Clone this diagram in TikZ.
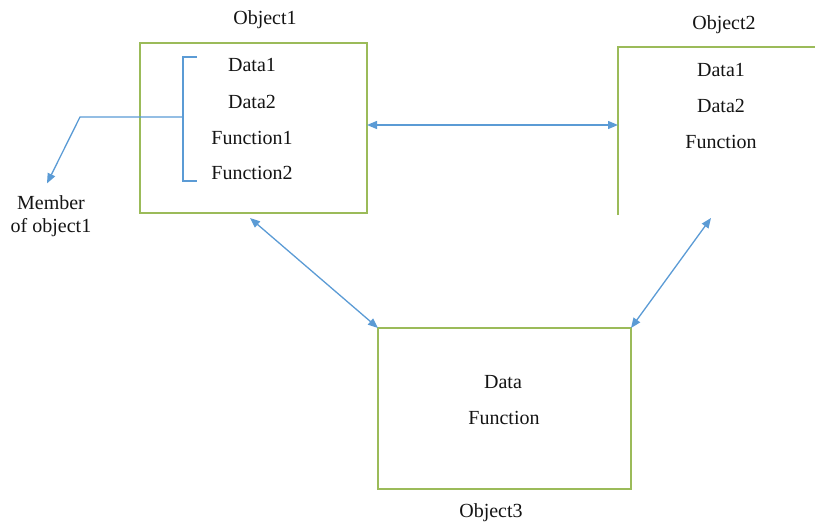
\documentclass[tikz,border=0pt]{standalone}
\usepackage{fontspec}
\setmainfont{Liberation Serif}
\usetikzlibrary{arrows.meta,calc}
\definecolor{boxgreen}{RGB}{155,187,89}
\definecolor{linkblue}{RGB}{91,155,213}
\definecolor{ink}{RGB}{20,20,20}
\begin{document}
\begin{tikzpicture}[x=1pt,y=-1pt,
  every node/.style={inner sep=0pt,outer sep=0pt},
  txt/.style={font=\fontsize{20}{22}\selectfont,text=ink},
  objbox/.style={draw=boxgreen,line width=1.5pt,rectangle,anchor=north west},
  tip/.tip={Triangle[length=10pt,width=8pt]},
  link/.style={draw=linkblue,line width=1.3pt,tip-tip},
  member/.style={draw=linkblue,line width=1.3pt}
]
\useasboundingbox (0,0) rectangle (815,522);

% Object 1: closed box with its four members
\node[objbox,minimum width=227pt,minimum height=170pt] (o1) at (140,43) {};
\node[txt] (o1lab) at (265,20) {Object1};
\node[txt] (d11) at (252,65) {Data1};
\node[txt] (d12) at (252,102) {Data2};
\node[txt] (f11) at (252,138) {Function1};
\node[txt] (f12) at (252,173) {Function2};

% Object 2: only its top and left edges fall inside the page
\node[minimum width=200pt,minimum height=168pt,anchor=north west] (o2) at (618,47) {};
\draw[boxgreen,line width=1.5pt] (o2.south west) -- (o2.north west) -- (o2.north east);
\node[txt] (o2lab) at (724,25) {Object2};
\node[txt] (d21) at (721,70) {Data1};
\node[txt] (d22) at (721,106) {Data2};
\node[txt] (f21) at (721,142) {Function};

% Object 3
\node[objbox,minimum width=253pt,minimum height=161pt] (o3) at (378,328) {};
\node[txt] (o3lab) at (491,513) {Object3};
\node[txt] (d31) at (503,382) {Data};
\node[txt] (f31) at (504,418) {Function};

% Bracket grouping the members of object 1
\coordinate (bt) at (183,57);
\coordinate (bb) at (183,181);
\coordinate (bm) at (183,117);
\coordinate (bend) at (80,117);
\node[txt,align=center] (mem) at (51,216) {Member\\[1pt]of object1};
\draw[member] ($(bt)+(14,0)$) -- (bt) -- (bb) -- ($(bb)+(14,0)$);
\draw[member,-tip] (bm) -- (bend) -- ([shift={(-4,-12)}]mem.north);

% Links between the objects
\coordinate (o1r) at ([yshift=3pt]o1.east);
\draw[link] (o1r) -- (o1r -| o2.west);
\draw[link] ([shift={(110,5)}]o1.south west) -- (o3.north west);
\draw[link] ([shift={(93,3)}]o2.south west) -- (o3.north east);
\end{tikzpicture}
\end{document}
